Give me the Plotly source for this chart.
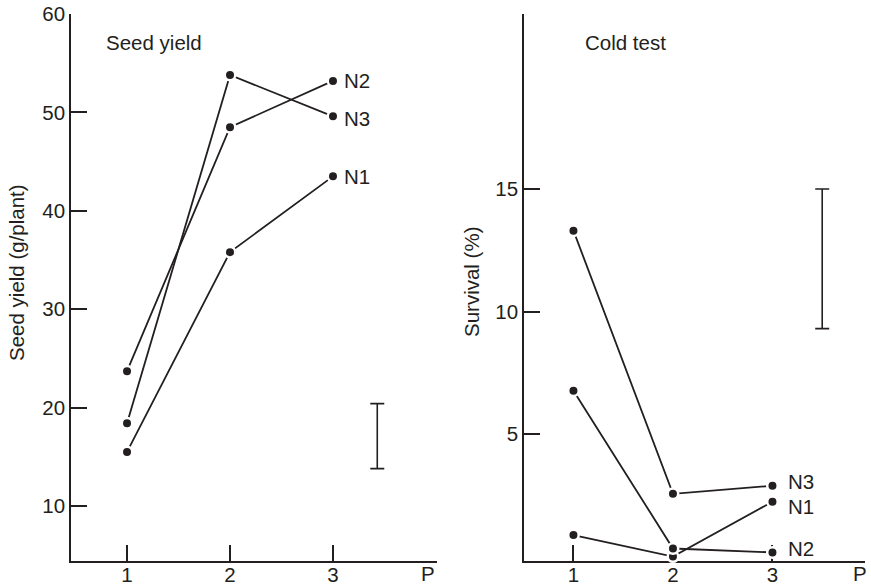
import plotly.graph_objects as go

# ---- data ----
periods = [1, 2, 3]
period_ticks = ["1", "2", "3"]
seed_n1 = [15.5, 35.8, 43.5]
seed_n2 = [23.7, 48.5, 53.2]
seed_n3 = [18.4, 53.8, 49.6]
cold_n1 = [0.88, 0.0, 2.24]
cold_n2 = [6.77, 0.33, 0.17]
cold_n3 = [13.3, 2.56, 2.89]
seed_lsd = {"x": 3.43, "low": 13.8, "high": 20.4}
cold_lsd = {"x": 3.5, "low": 9.3, "high": 15.0}
seed_labels = [("N2", 53.25), ("N3", 49.4), ("N1", 43.5)]
cold_labels = [("N3", 3.08), ("N1", 2.06), ("N2", 0.35)]
seed_yticks = [10, 20, 30, 40, 50, 60]
cold_yticks = [5, 10, 15]

INK = "#231f20"
FONT = "Liberation Sans, Arial, Helvetica, sans-serif"
FS = 20.5
W, H = 871, 585

fig = go.Figure()


def add_series(xs, ys, xa, ya):
    fig.add_trace(go.Scatter(
        x=xs, y=ys, xaxis=xa, yaxis=ya, mode="lines+markers",
        line=dict(color=INK, width=1.8),
        marker=dict(size=10.5, color=INK, line=dict(color="white", width=2.5)),
        showlegend=False, hoverinfo="skip", cliponaxis=False))


for s in (seed_n1, seed_n2, seed_n3):
    add_series(periods, s, "x", "y")
for s in (cold_n1, cold_n2, cold_n3):
    add_series(periods, s, "x2", "y2")


def add_lsd(d, xa, ya):
    mid = (d["low"] + d["high"]) / 2
    half = (d["high"] - d["low"]) / 2
    fig.add_trace(go.Scatter(
        x=[d["x"]], y=[mid], xaxis=xa, yaxis=ya, mode="markers",
        marker=dict(size=1, color="rgba(0,0,0,0)"),
        error_y=dict(type="data", array=[half], symmetric=True,
                     width=7, thickness=1.6, color=INK),
        showlegend=False, hoverinfo="skip"))


add_lsd(seed_lsd, "x", "y")
add_lsd(cold_lsd, "x2", "y2")

axis_common = dict(
    showline=True, linecolor=INK, linewidth=1.6, ticks="inside", ticklen=16,
    tickwidth=1.6, tickcolor=INK, showgrid=False, zeroline=False,
    tickfont=dict(family=FONT, size=FS, color=INK), layer="below traces",
    fixedrange=True, automargin=False)

fig.update_layout(
    template="none",
    width=W, height=H, margin=dict(l=0, r=0, t=0, b=0, pad=0, autoexpand=False),
    paper_bgcolor="white", plot_bgcolor="white",
    xaxis=dict(domain=[71 / W, 437 / W], range=[0.456, 4.01], anchor="y",
               tickvals=periods, ticktext=period_ticks, ticklabelstandoff=-5,
               **axis_common),
    yaxis=dict(domain=[1 - 561 / H, 1 - 14 / H], range=[4.41, 60], anchor="x",
               tickvals=seed_yticks, **axis_common),
    xaxis2=dict(domain=[524 / W, 865 / W], range=[0.503, 3.93], anchor="y2",
                tickvals=periods, ticktext=period_ticks, ticklabelstandoff=-5,
                **axis_common),
    yaxis2=dict(domain=[1 - 561 / H, 1 - 14 / H], range=[-0.18, 22.14], anchor="x2",
                tickvals=cold_yticks, **axis_common),
)

ann = []
tf = dict(family=FONT, size=FS, color=INK)
for txt, yv in seed_labels:
    ann.append(dict(x=3, y=yv, xref="x", yref="y", text=txt, showarrow=False,
                    xanchor="left", yanchor="middle", xshift=9, font=tf))
for txt, yv in cold_labels:
    ann.append(dict(x=3, y=yv, xref="x2", yref="y2", text=txt, showarrow=False,
                    xanchor="left", yanchor="middle", xshift=14, font=tf))
ann.append(dict(x=104 / W, y=1 - 43 / H, xref="paper", yref="paper", text="Seed yield",
                showarrow=False, xanchor="left", yanchor="middle", font=tf))
ann.append(dict(x=583 / W, y=1 - 43 / H, xref="paper", yref="paper", text="Cold test",
                showarrow=False, xanchor="left", yanchor="middle", font=tf))
ann.append(dict(x=16 / W, y=1 - 273 / H, xref="paper", yref="paper",
                text="Seed yield (g/plant)", textangle=-90, showarrow=False,
                xanchor="center", yanchor="middle", font=tf))
ann.append(dict(x=471 / W, y=1 - 282 / H, xref="paper", yref="paper",
                text="Survival (%)", textangle=-90, showarrow=False,
                xanchor="center", yanchor="middle", font=tf))
ann.append(dict(x=3.92, y=1 - 573 / H, xref="x", yref="paper", text="P",
                showarrow=False, xanchor="center", yanchor="middle", font=tf))
ann.append(dict(x=3.88, y=1 - 573 / H, xref="x2", yref="paper", text="P",
                showarrow=False, xanchor="center", yanchor="middle", font=tf))
fig.update_layout(annotations=ann)

fig.write_html("out.html", config={"displayModeBar": False},
               post_script="document.body.style.margin='0';document.body.style.overflow='hidden';")
